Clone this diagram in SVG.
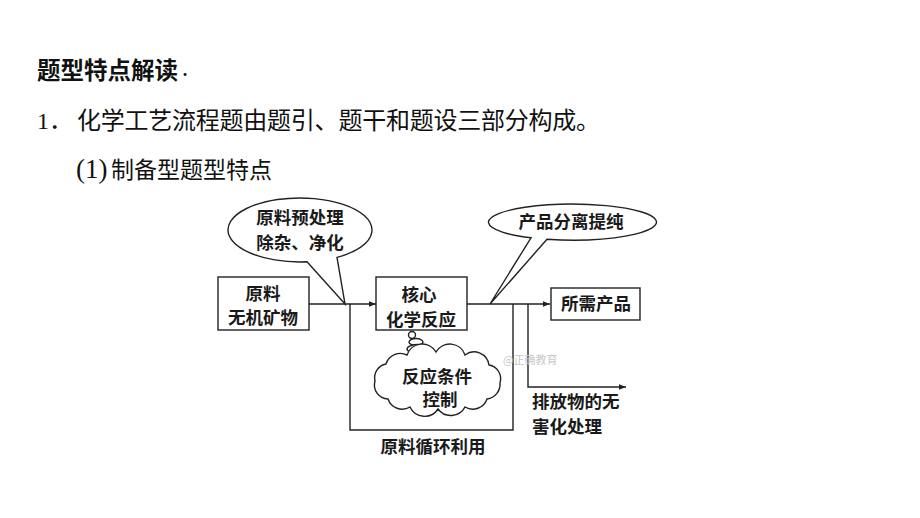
<svg xmlns="http://www.w3.org/2000/svg" width="920" height="518" viewBox="0 0 920 518">
<defs>
<style>
.t{font-family:"Noto Sans CJK SC","Liberation Sans",sans-serif;fill:#111}
.s{font-family:"Liberation Serif","Noto Sans CJK SC",serif;fill:#111}
.d{font-family:"Noto Sans CJK SC","Liberation Sans",sans-serif;font-size:17.5px;font-weight:600;fill:#1a1a1a;text-anchor:middle}
.l{font-family:"Noto Sans CJK SC","Liberation Sans",sans-serif;font-size:17.5px;font-weight:600;fill:#1a1a1a}
.box{fill:#fff;stroke:#222;stroke-width:1.4}
.ln{fill:none;stroke:#222;stroke-width:1.4}
</style>
<marker id="arr" viewBox="0 0 10 10" refX="10" refY="5" markerWidth="9" markerHeight="7" markerUnits="userSpaceOnUse" orient="auto">
<path d="M0,1 L10,5 L0,9 Z" fill="#222"/>
</marker>
</defs>
<rect width="920" height="518" fill="#fff"/>

<g id="header">
<text class="t" x="37" y="79" font-size="23.5" font-weight="bold">题型特点解读<tspan font-weight="normal" font-size="14">·</tspan></text>
<text class="s" x="37" y="129" font-size="24">1．</text>
<text class="t" x="77" y="129" font-size="24" textLength="523" lengthAdjust="spacing">化学工艺流程题由题引、题干和题设三部分构成。</text>
<text class="s" x="76" y="178" font-size="27">(1)</text>
<text class="t" x="111" y="178" font-size="23">制备型题型特点</text>
</g>

<g id="connectors">
<line class="ln" x1="309" y1="304" x2="376" y2="304" marker-end="url(#arr)"/>
<polyline class="ln" points="350,304 350,430 513,430 513,304"/>
<line class="ln" x1="467" y1="304" x2="550" y2="304" marker-end="url(#arr)"/>
<polyline class="ln" points="528,304 528,387 626,387" marker-end="url(#arr)"/>
</g>

<g id="raw">
<rect class="box" x="218" y="277" width="91" height="53"/>
<text class="d" x="263" y="300">原料</text>
<text class="d" x="263" y="324">无机矿物</text>
</g>

<g id="pretreat">
<path class="box" d="M307,261.8 A72,32 0 1 1 337,257.4 L345,304 Z"/>
<text class="d" x="300" y="224">原料预处理</text>
<text class="d" x="300" y="249">除杂、净化</text>
</g>

<g id="core">
<rect class="box" x="376" y="277" width="91" height="53"/>
<text class="d" x="419" y="301">核心</text>
<text class="d" x="421" y="326">化学反应</text>
</g>

<g id="separate">
<path class="box" d="M531,237.8 A84,18 0 1 1 547,239.3 L490,304 Z"/>
<text class="d" x="571" y="228">产品分离提纯</text>
</g>

<g id="product">
<rect class="box" x="551" y="288" width="89" height="32"/>
<text class="d" x="596" y="310">所需产品</text>
</g>

<g id="condition">
<circle class="box" cx="412" cy="335" r="3.5"/>
<ellipse class="box" cx="416" cy="342" rx="7" ry="3.5"/>
<ellipse class="box" cx="418" cy="349" rx="11" ry="4.5"/>
<path class="box" d="M500,383 A15,15 0 0 1 487,399 A15,15 0 0 1 465,407 A16,16 0 0 1 438,409 A16,16 0 0 1 410,407 A15,15 0 0 1 388,399 A14,14 0 0 1 375,381 A14,14 0 0 1 386,364 A15,15 0 0 1 407,355 A16,16 0 0 1 436,352 A16,16 0 0 1 465,355 A15,15 0 0 1 489,365 A14,14 0 0 1 500,383 Z"/>
<text class="d" x="437" y="383">反应条件</text>
<text class="d" x="440" y="406">控制</text>
</g>

<g id="labels">
<text class="l" x="532" y="408">排放物的无</text>
<text class="l" x="532" y="433">害化处理</text>
<text class="d" x="433" y="453">原料循环利用</text>
<text class="t" x="503" y="364" font-size="11" style="fill:#c8c8c8">@正确教育</text>
</g>
</svg>
